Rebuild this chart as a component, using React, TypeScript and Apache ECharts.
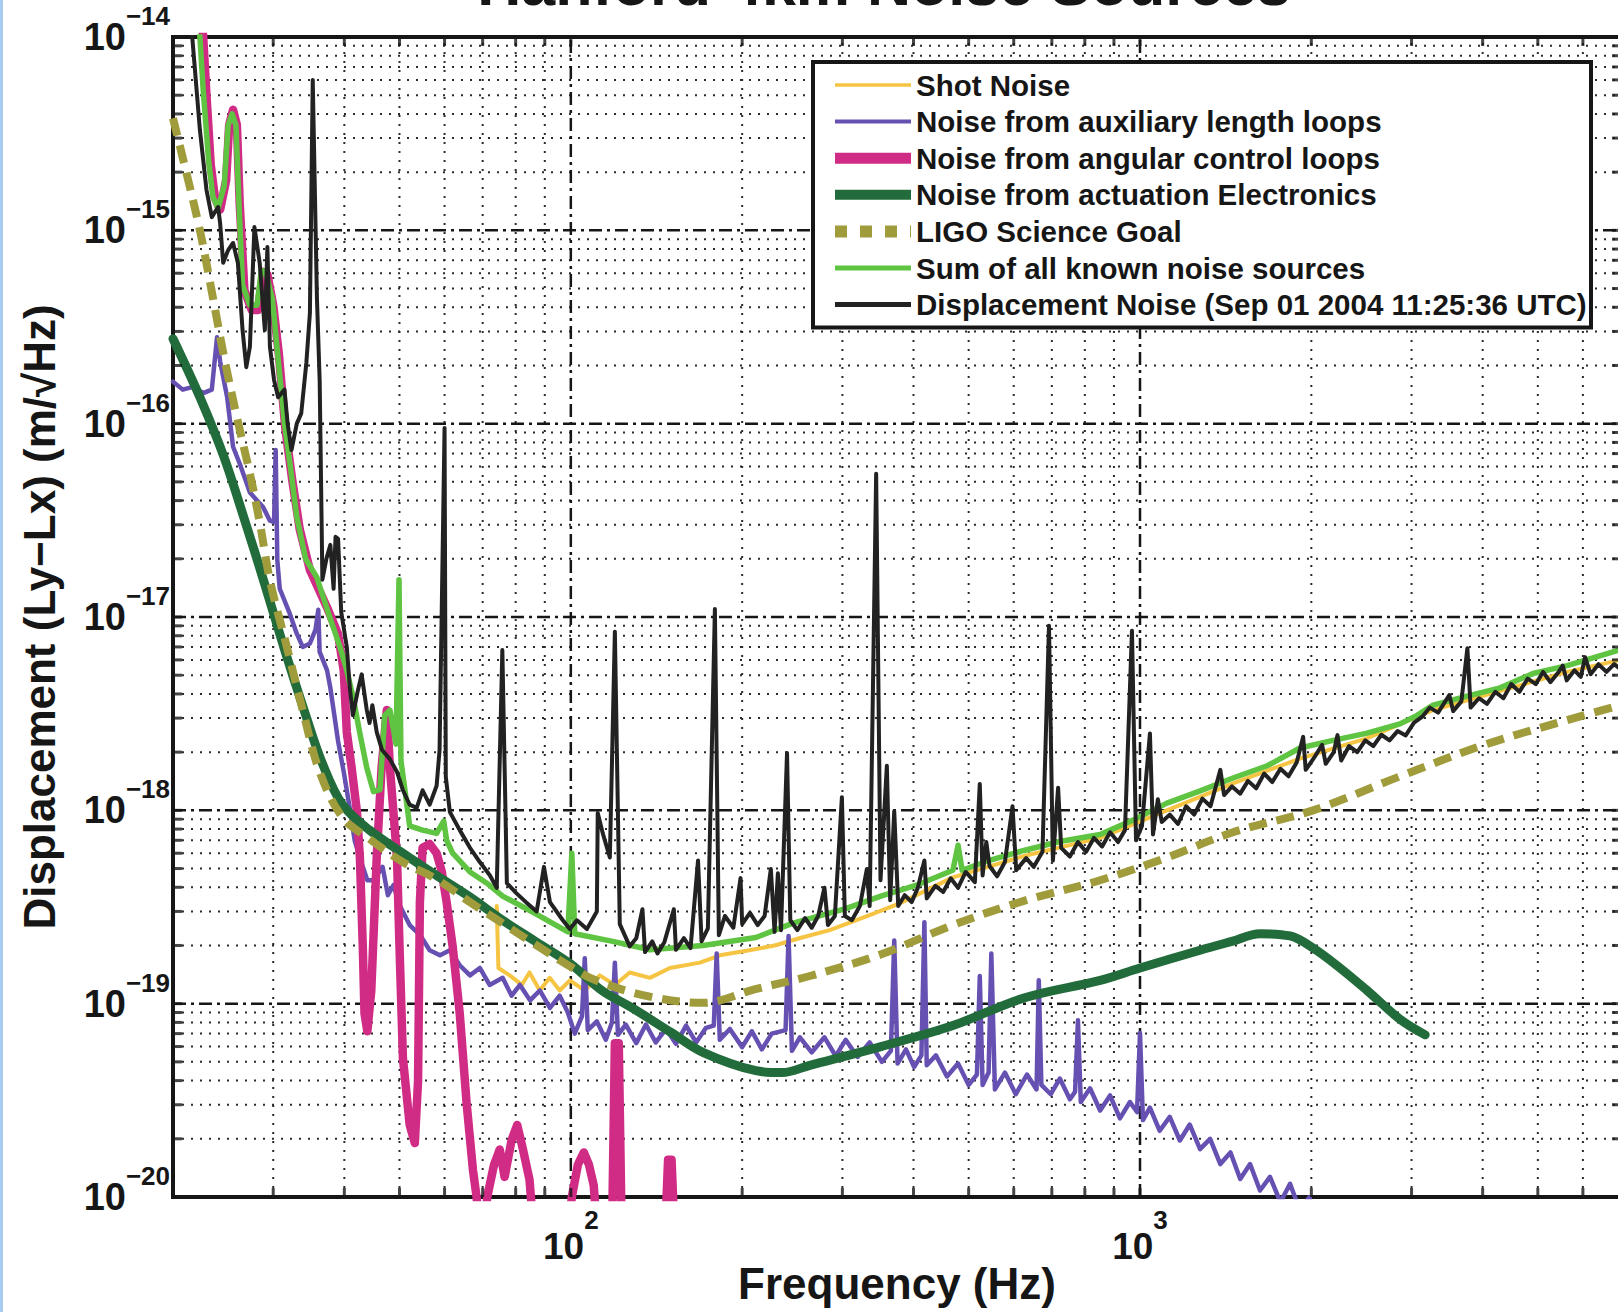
import React, { useEffect, useRef } from 'react';
import * as echarts from 'echarts';

const FONT = '"Liberation Sans", Arial, Helvetica, sans-serif';
const INK = '#161616';

// Axis extents: frequency in Hz, displacement in m/√Hz
const freqMin = 20;
const freqMax = 7000;
const dispMin = 1e-20;
const dispMax = 1e-14;

// Grid / tick positions
const minorFreqTicks = [30, 40, 50, 60, 70, 80, 90, 200, 300, 400, 500, 600, 700, 800, 900, 2000, 3000, 4000, 5000, 6000];
const majorFreqTicks = [100, 1000];
const decadeExponents = [-20, -19, -18, -17, -16, -15];
const minorMantissas = [2, 3, 4, 5, 6, 7, 8, 9];
const majorDispTicks = [1e-19, 1e-18, 1e-17, 1e-16, 1e-15];

const titleText = 'Hanford 4km Noise Sources';
const xAxisTitle = 'Frequency (Hz)';
const yAxisTitle = 'Displacement (Ly\u2212Lx) (m/\u221AHz)';

const seriesNames = [
  'Shot Noise',
  'Noise from auxiliary length loops',
  'Noise from angular control loops',
  'Noise from actuation Electronics',
  'LIGO Science Goal',
  'Sum of all known noise sources',
  'Displacement Noise (Sep 01 2004 11:25:36 UTC)',
];

// [frequency Hz, displacement m/√Hz]
const shotNoise = [
  [74.1, 3.2e-19], [74.6, 1.53e-19], [78.1, 1.4e-19], [82, 1.25e-19], [84.6, 1.45e-19], [88.2, 1.17e-19],
  [91.8, 1.36e-19], [95.6, 1.17e-19], [99.6, 1.32e-19], [105.8, 1.17e-19], [112.4, 1.4e-19], [119.5, 1.25e-19],
  [126.9, 1.45e-19], [137.7, 1.36e-19], [149.3, 1.53e-19], [168.6, 1.63e-19], [182.7, 1.78e-19], [206, 1.89e-19],
  [228, 2.0e-19], [252, 2.18e-19], [285, 2.4e-19], [335, 2.87e-19], [378, 3.3e-19], [469, 4.5e-19],
  [625, 5.8e-19], [851, 7.2e-19], [1115, 1.0e-18], [1457, 1.38e-18], [1910, 1.85e-18], [2495, 2.35e-18],
  [3270, 3.3e-18], [4240, 4.1e-18], [5630, 5.2e-18], [7000, 6.0e-18],
];

const auxLengthNoise = [
  [20, 1.65e-16], [20.8, 1.5e-16], [21.7, 1.55e-16], [22.6, 1.44e-16], [23.4, 1.5e-16], [23.9, 2.8e-16],
  [24.2, 2.1e-16], [24.9, 1.37e-16], [25.5, 7.6e-17], [26.2, 6.2e-17], [27.3, 4.4e-17], [28.1, 4.0e-17],
  [28.8, 3.7e-17], [29.6, 3.15e-17], [30.1, 3.1e-17], [30.3, 7.3e-17], [30.5, 1.97e-17], [30.8, 1.4e-17],
  [32.0, 1.06e-17], [33.0, 8.2e-18], [33.8, 7.0e-18], [34.8, 7.3e-18], [35.6, 8.6e-18], [36.0, 1.09e-17],
  [36.2, 6.6e-18], [37.3, 5.3e-18], [37.8, 4.3e-18], [38.3, 3.3e-18], [39.0, 2.28e-18], [39.9, 1.58e-18],
  [40.9, 1.02e-18], [41.7, 7.0e-19], [42.6, 5.66e-19], [43.9, 4.35e-19], [45.0, 4.35e-19], [46.7, 5.1e-19],
  [47.7, 3.64e-19], [48.8, 4.1e-19], [50.0, 3.24e-19], [52.1, 2.55e-19], [54.3, 2.27e-19], [56.5, 1.89e-19],
  [58.9, 1.78e-19], [61.3, 1.89e-19], [63.8, 1.58e-19], [66.5, 1.4e-19], [69.2, 1.53e-19], [72.0, 1.25e-19],
  [75.9, 1.36e-19], [78.7, 1.1e-19], [81.4, 1.25e-19], [84.8, 1.04e-19], [88.2, 1.17e-19], [91.9, 9.5e-20],
  [95.6, 1.1e-19], [98.8, 9.0e-20], [101.6, 7.0e-20], [104.6, 8.6e-20], [105.8, 1.72e-19], [107.1, 7.3e-20],
  [111.1, 8.1e-20], [115.2, 6.5e-20], [118.1, 8.0e-20], [119.5, 1.63e-19], [121, 6.9e-20], [124.9, 7.8e-20],
  [130.3, 6.25e-20], [135.5, 7.8e-20], [141, 6.3e-20], [147, 7.4e-20], [153, 6.2e-20], [159.4, 7.7e-20],
  [166, 6.3e-20], [172.8, 7.5e-20], [178.3, 7.7e-20], [180.4, 1.82e-19], [182.7, 6.5e-20], [190.3, 7.4e-20],
  [200, 5.96e-20], [208, 7.2e-20], [216.6, 5.8e-20], [225.4, 7.0e-20], [238.4, 7.3e-20], [241.3, 2.24e-19],
  [244.6, 5.7e-20], [252.6, 6.7e-20], [265, 5.6e-20], [279, 6.7e-20], [292, 5.36e-20], [304, 6.5e-20],
  [319, 5.3e-20], [335, 6.3e-20], [352, 5.0e-20], [365, 5.7e-20], [370, 2.12e-19], [375, 4.9e-20],
  [388, 5.8e-20], [401, 4.7e-20], [413, 5.4e-20], [418, 2.64e-19], [422, 4.8e-20], [438, 5.4e-20],
  [458, 4.2e-20], [479, 4.9e-20], [500, 3.8e-20], [517, 4.3e-20], [523, 1.39e-19], [529, 3.8e-20],
  [542, 4.4e-20], [548, 1.82e-19], [556, 3.6e-20], [579, 4.4e-20], [605, 3.4e-20], [633, 4.3e-20],
  [658, 3.6e-20], [664, 1.32e-19], [671, 3.8e-20], [697, 3.4e-20], [723, 4.1e-20], [753, 3.2e-20],
  [769, 3.5e-20], [778, 8.2e-20], [787, 3.1e-20], [817, 3.65e-20], [851, 2.8e-20], [886, 3.35e-20],
  [922, 2.55e-20], [960, 3.1e-20], [988, 2.75e-20], [1000, 7.05e-20], [1012, 2.5e-20], [1041, 2.9e-20],
  [1083, 2.2e-20], [1128, 2.6e-20], [1175, 1.96e-20], [1223, 2.37e-20], [1275, 1.77e-20], [1328, 2.0e-20],
  [1384, 1.48e-20], [1442, 1.7e-20], [1500, 1.24e-20], [1561, 1.48e-20], [1625, 1.08e-20], [1692, 1.27e-20],
  [1765, 9.4e-21], [1835, 1.17e-20], [1910, 8.5e-21], [1985, 1.0e-20], [2014, 8e-21],
];

const angularNoise = [
  [22.4, 1.4e-14], [22.6, 1.0e-14], [22.9, 5.0e-15], [23.3, 2.18e-15], [23.7, 1.47e-15], [24.2, 1.28e-15],
  [24.8, 1.82e-15], [25.1, 3.5e-15], [25.5, 4.2e-15], [25.9, 3.5e-15], [26.2, 1.36e-15], [26.7, 4.9e-16],
  [27.5, 3.87e-16], [28.2, 3.87e-16], [28.8, 6.1e-16], [29.3, 5.9e-16], [30.0, 4.1e-16], [30.7, 2.27e-16],
  [31.5, 9.5e-17], [32.4, 5.1e-17], [33.4, 2.84e-17], [34.8, 1.75e-17], [35.8, 1.46e-17], [37.3, 1.12e-17],
  [39.0, 8.15e-18], [39.9, 5.3e-18], [40.4, 2.54e-18], [41.2, 1.66e-18], [42.1, 9.8e-19], [42.6, 5.7e-19],
  [43.1, 1.98e-19], [43.4, 8.9e-20], [43.9, 7.2e-20], [44.6, 1.16e-19], [45.6, 5.7e-19], [46.5, 1.66e-18],
  [47.5, 3.3e-18], [48.1, 1.66e-18], [49.5, 5.7e-19], [50.0, 1.98e-19], [50.7, 5.22e-20], [52.1, 2.36e-20],
  [53.2, 1.9e-20], [53.9, 4.0e-20], [54.3, 3.35e-19], [54.9, 6.4e-19], [56.5, 6.7e-19], [58.1, 6.0e-19],
  [59.3, 4.85e-19], [60.5, 3.35e-19], [62.0, 1.98e-19], [63.8, 8.9e-20], [65.6, 3.05e-20], [67.3, 1.38e-20],
  [68.3, 1.0e-20], [69.3, 6e-21], [70.2, 6e-21], [71.3, 1.0e-20], [73.3, 1.47e-20], [75.0, 1.76e-20],
  [76.5, 1.27e-20], [78.7, 1.97e-20], [80.5, 2.36e-20], [82.4, 1.76e-20], [84.6, 1.23e-20], [86.3, 6e-21],
  [98.8, 6e-21], [100.4, 1.0e-20], [102.9, 1.47e-20], [105.4, 1.7e-20], [107.6, 1.47e-20], [109.7, 1.15e-20],
  [111.5, 6e-21], [118.1, 6e-21], [119.5, 6.25e-20], [121.4, 6.25e-20], [122.9, 6e-21], [146.3, 6e-21],
  [148.2, 1.56e-20], [150.3, 1.56e-20], [152.3, 6e-21],
];

const actuationNoise = [
  [20, 2.75e-16], [22.3, 1.37e-16], [24.5, 6.9e-17], [26.7, 3.2e-17], [29.0, 1.47e-17], [31.4, 6.8e-18],
  [34.1, 3.2e-18], [36.6, 1.75e-18], [39.7, 1.07e-18], [44.3, 7.9e-19], [50.7, 6.0e-19], [58.1, 4.6e-19],
  [66.5, 3.56e-19], [75.9, 2.7e-19], [87.1, 2.08e-19], [100, 1.6e-19], [113.8, 1.16e-19], [127.5, 9.6e-20],
  [150, 7.1e-20], [170.6, 5.6e-20], [211.4, 4.5e-20], [235, 4.4e-20], [263, 4.8e-20], [350.6, 6.0e-20],
  [469, 7.7e-20], [625, 1.07e-19], [851, 1.32e-19], [1000, 1.53e-19], [1275, 1.89e-19], [1450, 2.1e-19],
  [1625, 2.3e-19], [1835, 2.24e-19], [2014, 1.94e-19], [2246, 1.53e-19], [2506, 1.17e-19], [2864, 8.3e-20],
  [3170, 6.9e-20],
];

const scienceGoal = [
  [20, 3.8e-15], [21.1, 2.0e-15], [22.3, 1.0e-15], [23.5, 4.5e-16], [24.6, 2.2e-16], [25.9, 1.08e-16],
  [27.3, 5.5e-17], [28.4, 3.1e-17], [29.6, 1.55e-17], [31.7, 7.0e-18], [33.8, 3.3e-18], [36.2, 1.58e-18],
  [39.7, 9.2e-19], [44.3, 7.1e-19], [50.7, 5.4e-19], [58.1, 4.4e-19], [66.5, 3.35e-19], [75.9, 2.6e-19],
  [87.1, 2.0e-19], [100, 1.55e-19], [110.6, 1.32e-19], [137, 1.09e-19], [171, 1.01e-19], [211, 1.19e-19],
  [263, 1.39e-19], [351, 1.8e-19], [469, 2.55e-19], [625, 3.4e-19], [851, 4.35e-19], [1115, 5.7e-19],
  [1457, 7.7e-19], [2014, 1.0e-18], [2864, 1.5e-18], [4008, 2.17e-18], [5628, 2.93e-18], [7000, 3.5e-18],
];

const knownNoiseSum = [
  [22.1, 1.4e-14], [22.3, 1.0e-14], [22.6, 5.3e-15], [23.1, 2.3e-15], [23.5, 1.5e-15], [24.0, 1.3e-15],
  [24.6, 1.7e-15], [25.0, 3.5e-15], [25.4, 4.0e-15], [25.8, 3.5e-15], [26.1, 1.44e-15], [26.5, 5.2e-16],
  [27.3, 4.1e-16], [28.1, 4.1e-16], [28.6, 6.2e-16], [29.1, 6.1e-16], [29.9, 4.4e-16], [30.5, 2.4e-16],
  [31.4, 1.0e-16], [32.2, 5.8e-17], [33.0, 3.3e-17], [34.2, 2.0e-17], [35.8, 1.6e-17], [37.7, 1.0e-17],
  [39.3, 7.0e-18], [40.4, 5.3e-18], [41.4, 3.9e-18], [42.6, 2.5e-18], [43.8, 1.66e-18], [45.0, 1.25e-18],
  [46.2, 1.28e-18], [47.1, 3.1e-18], [48.1, 3.3e-18], [49.3, 2.2e-18], [49.9, 1.56e-17], [50.3, 1.8e-18],
  [51.1, 1.28e-18], [52.1, 8.3e-19], [54.9, 7.9e-19], [58.1, 7.6e-19], [59.8, 8.8e-19], [60.5, 7.0e-19],
  [62.0, 6.0e-19], [66.5, 4.8e-19], [71.2, 4.2e-19], [75.9, 3.6e-19], [87.1, 2.9e-19], [98.8, 2.35e-19],
  [100.4, 6.0e-19], [101.6, 2.3e-19], [118.5, 2.1e-19], [137.7, 1.9e-19], [170.6, 2.0e-19], [211.4, 2.2e-19],
  [245, 2.6e-19], [304, 3.1e-19], [350.6, 3.6e-19], [405, 4.1e-19], [469, 4.9e-19], [479, 6.6e-19],
  [487, 4.9e-19], [542, 5.5e-19], [625, 6.2e-19], [723, 6.9e-19], [851, 7.5e-19], [972, 8.9e-19],
  [1115, 1.09e-18], [1276, 1.26e-18], [1457, 1.47e-18], [1673, 1.7e-18], [1910, 2.1e-18], [2184, 2.3e-18],
  [2495, 2.5e-18], [2862, 2.8e-18], [3067, 3.1e-18], [3273, 3.5e-18], [3755, 3.9e-18], [4292, 4.3e-18],
  [4903, 5.1e-18], [5630, 5.6e-18], [7000, 6.8e-18],
];

const displacementNoise = [
  [21.5, 1.22e-14], [22.3, 3.3e-15], [22.9, 1.62e-15], [23.4, 1.17e-15], [24.0, 1.32e-15], [24.2, 1.09e-15],
  [24.5, 6.8e-16], [25.0, 7.9e-16], [25.5, 8.6e-16], [26.0, 6.8e-16], [26.5, 3.05e-16], [26.9, 1.96e-16],
  [27.3, 2.5e-16], [27.8, 1.04e-15], [28.4, 6.8e-16], [29.0, 3.05e-16], [29.3, 8.2e-16], [29.6, 2.5e-16],
  [30.1, 1.68e-16], [30.6, 1.37e-16], [31.4, 1.5e-16], [31.8, 1.0e-16], [32.3, 7.3e-17], [33.0, 1.0e-16],
  [33.6, 1.13e-16], [34.3, 2.06e-16], [34.8, 3.74e-16], [35.2, 6.0e-15], [35.8, 4.5e-16], [36.2, 1.68e-16],
  [36.5, 2.84e-17], [36.6, 1.56e-17], [37.2, 2.0e-17], [37.8, 2.36e-17], [38.3, 1.4e-17], [38.6, 2.6e-17],
  [39.0, 2.54e-17], [39.5, 1.06e-17], [40.4, 7.0e-18], [40.9, 4.3e-18], [41.4, 3.1e-18], [42.2, 4.1e-18],
  [42.9, 5.05e-18], [43.8, 3.3e-18], [44.3, 2.83e-18], [44.8, 3.5e-18], [45.6, 2.54e-18], [46.6, 2.05e-18],
  [48.1, 1.84e-18], [49.5, 1.58e-18], [50.7, 1.27e-18], [52.1, 1.07e-18], [53.6, 1.03e-18], [54.9, 1.27e-18],
  [56.5, 1.07e-18], [58.1, 1.34e-18], [58.8, 2.05e-18], [60, 9.5e-17], [60.3, 1.49e-18], [61.3, 9.8e-19],
  [63.8, 7.9e-19], [66.5, 6.4e-19], [69.2, 5.4e-19], [72.1, 4.6e-19], [74.1, 3.97e-19], [75.8, 6.75e-18],
  [77.2, 4.2e-19], [80.2, 3.73e-19], [83.4, 3.35e-19], [87.1, 3.0e-19], [89.7, 5.1e-19], [91.9, 3.35e-19],
  [96.8, 2.7e-19], [99.6, 2.43e-19], [102.5, 2.7e-19], [106.7, 2.43e-19], [111.1, 3.0e-19], [111.5, 9.7e-19],
  [113.8, 7.6e-19], [117.1, 5.7e-19], [119.5, 8.4e-18], [121.9, 2.58e-19], [126.9, 1.98e-19], [130.3, 2.18e-19],
  [133.6, 3.08e-19], [135, 1.85e-19], [139, 2.1e-19], [142, 1.82e-19], [146, 2.08e-19], [151.7, 3.08e-19],
  [153, 1.9e-19], [158, 2.18e-19], [162.3, 1.94e-19], [167.3, 5.5e-19], [169.7, 2.1e-19], [174.1, 2.45e-19],
  [179.1, 1.1e-17], [182, 2.26e-19], [186.5, 2.84e-19], [193, 2.47e-19], [198.7, 4.46e-19], [200, 2.58e-19],
  [206.4, 2.95e-19], [213, 2.55e-19], [219, 2.84e-19], [224.6, 4.97e-19], [228, 2.35e-19], [231.1, 4.72e-19],
  [234, 2.4e-19], [239.8, 1.98e-18], [243, 2.7e-19], [250, 2.4e-19], [258, 2.77e-19], [265, 2.47e-19],
  [272, 2.84e-19], [279, 3.98e-19], [283, 2.55e-19], [291, 2.84e-19], [299.4, 1.17e-18], [303, 2.84e-19],
  [311.7, 2.7e-19], [322, 3.2e-19], [331.2, 4.97e-19], [335, 3.2e-19], [343.9, 5.5e-17], [350, 4.35e-19],
  [359.1, 1.7e-18], [364, 3.43e-19], [370, 9.9e-19], [376, 3.2e-19], [386, 3.64e-19], [397, 3.35e-19],
  [407, 3.97e-19], [418, 5.5e-19], [422, 3.5e-19], [437, 4.07e-19], [451, 3.78e-19], [465, 4.45e-19],
  [479, 3.97e-19], [494, 4.8e-19], [512.7, 4.25e-19], [523, 1.37e-18], [529, 4.6e-19], [537, 6.85e-19],
  [544, 5.15e-19], [561, 4.56e-19], [579, 5.4e-19], [597, 1.05e-18], [606, 4.9e-19], [631, 5.66e-19],
  [650.7, 5.1e-19], [674, 6.1e-19], [692, 9.0e-18], [703, 5.5e-19], [718, 1.31e-18], [727, 6.4e-19],
  [753, 5.77e-19], [778, 6.85e-19], [804, 6.1e-19], [830, 7.2e-19], [858, 6.5e-19], [886, 7.7e-19],
  [915, 6.85e-19], [941, 7.9e-19], [968, 8.5e-18], [984, 7.0e-19], [1008, 8.3e-19], [1041, 2.5e-18],
  [1054, 7.5e-19], [1075, 1.14e-18], [1092, 8.7e-19], [1128, 9.5e-19], [1166, 8.5e-19], [1205, 1.05e-18],
  [1245, 9.5e-19], [1287, 1.15e-18], [1330, 1.05e-18], [1384, 1.62e-18], [1405, 1.2e-18], [1451, 1.33e-18],
  [1500, 1.22e-18], [1548, 1.42e-18], [1600, 1.3e-18], [1653, 1.55e-18], [1708, 1.4e-18], [1765, 1.64e-18],
  [1824, 1.5e-18], [1885, 1.77e-18], [1935, 2.4e-18], [1955, 1.62e-18], [2020, 1.86e-18], [2089, 2.18e-18],
  [2120, 1.74e-18], [2190, 2.0e-18], [2223, 2.45e-18], [2257, 1.81e-18], [2330, 2.15e-18], [2408, 2.0e-18],
  [2488, 2.3e-18], [2570, 2.15e-18], [2655, 2.46e-18], [2744, 2.3e-18], [2835, 2.57e-18], [2930, 2.44e-18],
  [3030, 2.84e-18], [3130, 3.04e-18], [3230, 3.4e-18], [3340, 3.2e-18], [3495, 3.95e-18], [3550, 3.26e-18],
  [3670, 3.66e-18], [3760, 6.9e-18], [3810, 3.4e-18], [3940, 3.8e-18], [4070, 3.55e-18], [4210, 4.1e-18],
  [4350, 3.8e-18], [4490, 4.5e-18], [4640, 4.1e-18], [4800, 4.8e-18], [4960, 4.5e-18], [5106, 5.2e-18],
  [5260, 4.6e-18], [5440, 5.2e-18], [5530, 5.6e-18], [5620, 4.7e-18], [5800, 5.3e-18], [5950, 4.9e-18],
  [6053, 6.2e-18], [6190, 5.06e-18], [6390, 5.7e-18], [6600, 5.2e-18], [6810, 5.7e-18], [7030, 5.3e-18],
];

// Drawing styles, in legend / plotting order
const curveStyles = [
  { data: shotNoise, color: '#f6c443', width: 4, legendWidth: 3.5 },
  { data: auxLengthNoise, color: '#6651b2', width: 4.5, legendWidth: 4 },
  { data: angularNoise, color: '#d12c85', width: 8.5, legendWidth: 11 },
  { data: actuationNoise, color: '#226c3b', width: 9, legendWidth: 10, smooth: 0.35 },
  { data: scienceGoal, color: '#a09c3c', width: 8, legendWidth: 12, dash: [18, 10], legendDash: [12, 13], smooth: 0.35 },
  { data: knownNoiseSum, color: '#5ec441', width: 5.5, legendWidth: 5 },
  { data: displacementNoise, color: '#222222', width: 4, legendWidth: 5 },
];

const minorDispTicks = decadeExponents.flatMap((e) => minorMantissas.map((m) => m * Math.pow(10, e)));
const allDispTicks = [...minorDispTicks, ...majorDispTicks];
const allFreqTicks = [...minorFreqTicks, ...majorFreqTicks];

const minorGridStyle = { color: '#2b2b2b', width: 2, type: [2, 7] };
const majorGridStyle = { color: INK, width: 2.5, type: [13, 5, 3, 5] };

function powerOfTen(v: number): number | null {
  const lg = Math.log10(v);
  const e = Math.round(lg);
  return Math.abs(lg - e) < 1e-6 ? e : null;
}

function powerLabel(v: number) {
  const e = powerOfTen(v);
  if (e === null) return '';
  return `{b|10}{s|${e < 0 ? '\u2212' : ''}${Math.abs(e)}}`;
}

function buildOption() {
  const lineSeries = curveStyles.map((c, i) => ({
    type: 'line',
    name: seriesNames[i],
    data: c.data,
    symbol: 'none',
    showSymbol: false,
    smooth: c.smooth || false,
    z: 2,
    silent: true,
    clip: true,
    lineStyle: {
      color: c.color,
      width: c.width,
      type: c.dash || 'solid',
      cap: c.dash ? 'butt' : 'round',
      join: 'round',
    },
    itemStyle: { color: c.color },
    emphasis: { disabled: true },
  }));

  const tickMark = (data: number[][], size: number[], offset: number[]) => ({
    type: 'scatter',
    data,
    symbol: 'rect',
    symbolSize: size,
    symbolOffset: offset,
    itemStyle: { color: INK },
    z: 3,
    clip: false,
    silent: true,
    emphasis: { disabled: true },
  });

  // grid lines as two-point segments across the plot
  const gridSegment = (points: number[][], style: any) => ({
    type: 'line',
    data: points,
    symbol: 'none',
    showSymbol: false,
    z: 1,
    silent: true,
    lineStyle: style,
    emphasis: { disabled: true },
  });
  const horizontalGrid = (v: number, style: any) => gridSegment([[freqMin, v], [freqMax, v]], style);
  const verticalGrid = (f: number, style: any) => gridSegment([[f, dispMin], [f, dispMax]], style);

  const labelRichY = {
    b: { fontFamily: FONT, fontWeight: 'bold', fontSize: 38, color: INK, lineHeight: 38, padding: [15, 0, 15, 0] },
    s: { fontFamily: FONT, fontWeight: 'bold', fontSize: 26, color: INK, lineHeight: 26, padding: [0, 0, 42, 0] },
  };
  const labelRichX = {
    b: { fontFamily: FONT, fontWeight: 'bold', fontSize: 37, color: INK, lineHeight: 37, padding: [21, 0, 0, 0] },
    s: { fontFamily: FONT, fontWeight: 'bold', fontSize: 26, color: INK, lineHeight: 26, padding: [0, 0, 32, 0] },
  };

  return {
    animation: false,
    backgroundColor: '#ffffff',
    textStyle: { fontFamily: FONT },
    grid: {
      left: 173,
      top: 37,
      width: 1448,
      height: 1160,
      show: true,
      borderWidth: 4,
      borderColor: INK,
      backgroundColor: 'transparent',
      containLabel: false,
      outerBoundsMode: 'none',
    },
    graphic: [
      {
        type: 'text',
        x: 884,
        y: 14,
        style: {
          text: titleText,
          fill: INK,
          font: `bold 61px ${FONT}`,
          align: 'center',
          verticalAlign: 'bottom',
          textAlign: 'center',
          textVerticalAlign: 'bottom',
        },
      },
    ],
    legend: {
      orient: 'vertical',
      left: 813,
      top: 62,
      padding: [8, 3, 8, 16],
      itemGap: 6.6,
      itemWidth: 76,
      itemHeight: 14,
      backgroundColor: '#ffffff',
      borderColor: INK,
      borderWidth: 4,
      selectedMode: false,
      z: 10,
      textStyle: { fontFamily: FONT, fontWeight: 'bold', fontSize: 29.5, color: INK, lineHeight: 30, width: 672 },
      data: curveStyles.map((c, i) => ({
        name: seriesNames[i],
        itemStyle: { opacity: 0, borderWidth: 0 },
        lineStyle: { width: c.legendWidth, type: c.legendDash || c.dash || 'solid', cap: 'butt', opacity: 1 },
      })),
    },
    xAxis: {
      type: 'log',
      logBase: 10,
      min: freqMin,
      max: freqMax,
      axisLine: { show: false },
      axisTick: { show: false },
      splitLine: { show: false },
      axisLabel: { margin: 20, formatter: powerLabel, rich: labelRichX },
      name: xAxisTitle,
      nameLocation: 'middle',
      nameGap: 64,
      nameMoveOverlap: false,
      nameTextStyle: { fontFamily: FONT, fontWeight: 'bold', fontSize: 44, color: INK, lineHeight: 44 },
    },
    yAxis: {
      type: 'log',
      logBase: 10,
      min: dispMin,
      max: dispMax,
      axisLine: { show: false },
      axisTick: { show: false },
      splitLine: { show: false },
      axisLabel: { margin: 3, formatter: powerLabel, rich: labelRichY },
      name: yAxisTitle,
      nameLocation: 'middle',
      nameRotate: 90,
      nameGap: 112,
      nameMoveOverlap: false,
      nameTextStyle: { fontFamily: FONT, fontWeight: 'bold', fontSize: 44, color: INK, lineHeight: 44 },
    },
    series: [
      ...minorFreqTicks.map((f) => verticalGrid(f, minorGridStyle)),
      ...minorDispTicks.map((v) => horizontalGrid(v, minorGridStyle)),
      ...majorFreqTicks.map((f) => verticalGrid(f, majorGridStyle)),
      ...majorDispTicks.map((v) => horizontalGrid(v, majorGridStyle)),
      ...lineSeries,
      tickMark(allDispTicks.map((v) => [freqMin, v]), [9, 3], [4.5, 0]),
      tickMark(allDispTicks.map((v) => [freqMax, v]), [9, 3], [-4.5, 0]),
      tickMark(allFreqTicks.map((f) => [f, dispMin]), [3, 9], [0, -4.5]),
      tickMark(allFreqTicks.map((f) => [f, dispMax]), [3, 9], [0, 4.5]),
    ],
  };
}

export default function App() {
  const ref = useRef<HTMLDivElement | null>(null);
  useEffect(() => {
    if (!ref.current) return;
    const chart = echarts.init(ref.current, null, { renderer: 'svg' });
    chart.setOption(buildOption() as any);
    return () => chart.dispose();
  }, []);
  return (
    <div style={{ position: 'fixed', left: 0, top: 0, width: 1618, height: 1312, overflow: 'hidden', background: '#ffffff' }}>
      <div ref={ref} style={{ position: 'absolute', left: 0, top: 0, width: 1640, height: 1312 }} />
      <div style={{ position: 'absolute', left: 0, top: 0, width: 3, height: 1312, background: '#a8ccef' }} />
    </div>
  );
}
